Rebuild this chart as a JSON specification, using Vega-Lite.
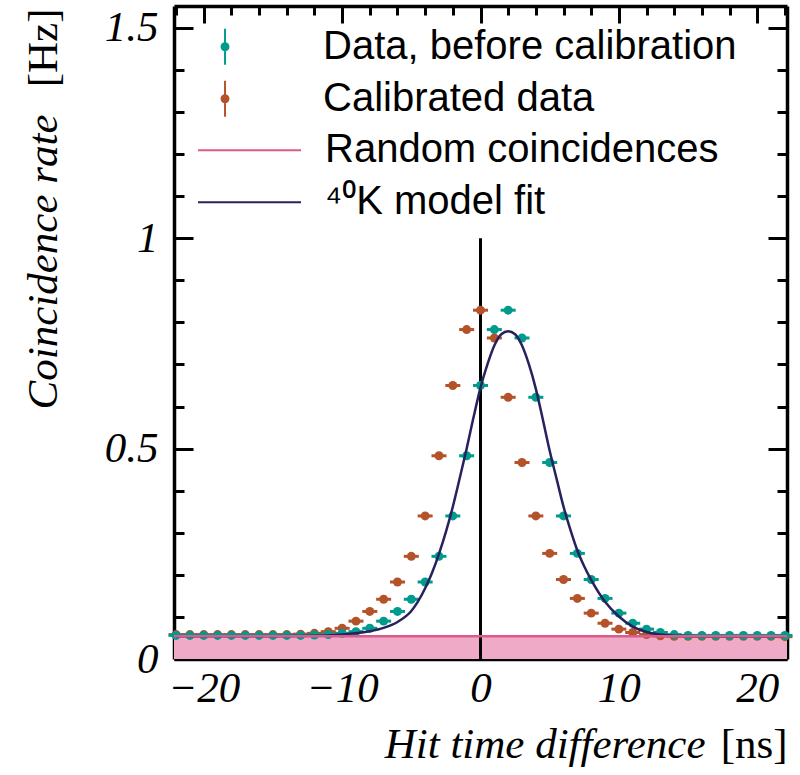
{
  "$schema": "https://vega.github.io/schema/vega-lite/v6.json",
  "width": 613,
  "height": 653,
  "autosize": {"type": "none"},
  "padding": {"left": 174, "top": 6, "right": 13, "bottom": 116},
  "background": "white",
  "config": {
    "view": {"stroke": null},
    "axis": {
      "grid": false,
      "domainColor": "black",
      "domainWidth": 3.5,
      "tickColor": "black",
      "tickWidth": 3,
      "labelFont": "Liberation Serif",
      "labelFontStyle": "italic",
      "labelFontSize": 43,
      "labelColor": "black",
      "titleFont": "Liberation Serif",
      "titleFontSize": 43,
      "titleFontWeight": "normal",
      "titleColor": "black",
      "zindex": 1
    },
    "axisX": {"ticks": true, "tickColor": "black", "tickWidth": 3},
    "axisY": {"ticks": true, "tickColor": "black", "tickWidth": 3},
    "legend": {
      "title": null,
      "orient": "none",
      "padding": 0,
      "rowPadding": 0,
      "clipHeight": 51.5,
      "symbolSize": 10609,
      "symbolOpacity": 1,
      "labelOffset": 23,
      "labelLimit": 700,
      "labelFont": "Liberation Sans, Noto Sans",
      "labelFontSize": 40,
      "labelColor": "black"
    }
  },
  "datasets": {
    "before": [
      {"t": -22, "rate": 0.056}, {"t": -21, "rate": 0.056}, {"t": -20, "rate": 0.056}, {"t": -19, "rate": 0.056},
      {"t": -18, "rate": 0.056}, {"t": -17, "rate": 0.056}, {"t": -16, "rate": 0.056}, {"t": -15, "rate": 0.056},
      {"t": -14, "rate": 0.056}, {"t": -13, "rate": 0.056}, {"t": -12, "rate": 0.057}, {"t": -11, "rate": 0.058},
      {"t": -10, "rate": 0.061}, {"t": -9, "rate": 0.065}, {"t": -8, "rate": 0.073}, {"t": -7, "rate": 0.090},
      {"t": -6, "rate": 0.113}, {"t": -5, "rate": 0.142}, {"t": -4, "rate": 0.183}, {"t": -3, "rate": 0.244},
      {"t": -2, "rate": 0.340}, {"t": -1, "rate": 0.483}, {"t": 0, "rate": 0.650}, {"t": 1, "rate": 0.783},
      {"t": 2, "rate": 0.829}, {"t": 3, "rate": 0.763}, {"t": 4, "rate": 0.622}, {"t": 5, "rate": 0.467},
      {"t": 6, "rate": 0.340}, {"t": 7, "rate": 0.251}, {"t": 8, "rate": 0.189}, {"t": 9, "rate": 0.144},
      {"t": 10, "rate": 0.109}, {"t": 11, "rate": 0.085}, {"t": 12, "rate": 0.071}, {"t": 13, "rate": 0.063},
      {"t": 14, "rate": 0.058}, {"t": 15, "rate": 0.056}, {"t": 16, "rate": 0.056}, {"t": 17, "rate": 0.056},
      {"t": 18, "rate": 0.056}, {"t": 19, "rate": 0.056}, {"t": 20, "rate": 0.056}, {"t": 21, "rate": 0.056},
      {"t": 22, "rate": 0.056}
    ],
    "calibrated": [
      {"t": -22, "rate": 0.058}, {"t": -21, "rate": 0.058}, {"t": -20, "rate": 0.058}, {"t": -19, "rate": 0.058},
      {"t": -18, "rate": 0.058}, {"t": -17, "rate": 0.058}, {"t": -16, "rate": 0.058}, {"t": -15, "rate": 0.058},
      {"t": -14, "rate": 0.058}, {"t": -13, "rate": 0.059}, {"t": -12, "rate": 0.061}, {"t": -11, "rate": 0.065},
      {"t": -10, "rate": 0.073}, {"t": -9, "rate": 0.090}, {"t": -8, "rate": 0.113}, {"t": -7, "rate": 0.142},
      {"t": -6, "rate": 0.183}, {"t": -5, "rate": 0.244}, {"t": -4, "rate": 0.340}, {"t": -3, "rate": 0.483},
      {"t": -2, "rate": 0.650}, {"t": -1, "rate": 0.783}, {"t": 0, "rate": 0.829}, {"t": 1, "rate": 0.763},
      {"t": 2, "rate": 0.622}, {"t": 3, "rate": 0.467}, {"t": 4, "rate": 0.340}, {"t": 5, "rate": 0.251},
      {"t": 6, "rate": 0.189}, {"t": 7, "rate": 0.144}, {"t": 8, "rate": 0.109}, {"t": 9, "rate": 0.085},
      {"t": 10, "rate": 0.071}, {"t": 11, "rate": 0.063}, {"t": 12, "rate": 0.058}, {"t": 13, "rate": 0.055},
      {"t": 14, "rate": 0.054}, {"t": 15, "rate": 0.054}, {"t": 16, "rate": 0.054}, {"t": 17, "rate": 0.054},
      {"t": 18, "rate": 0.054}, {"t": 19, "rate": 0.054}, {"t": 20, "rate": 0.054}, {"t": 21, "rate": 0.054},
      {"t": 22, "rate": 0.053}
    ],
    "model": [
      {"t": -22, "rate": 0.054}, {"t": -16, "rate": 0.054}, {"t": -13, "rate": 0.0545}, {"t": -12, "rate": 0.055},
      {"t": -11, "rate": 0.056}, {"t": -10, "rate": 0.058}, {"t": -9, "rate": 0.061}, {"t": -8, "rate": 0.066},
      {"t": -7, "rate": 0.074}, {"t": -6, "rate": 0.088}, {"t": -5, "rate": 0.114}, {"t": -4, "rate": 0.168},
      {"t": -3.5, "rate": 0.205}, {"t": -3, "rate": 0.250}, {"t": -2.5, "rate": 0.302}, {"t": -2, "rate": 0.362},
      {"t": -1.5, "rate": 0.430}, {"t": -1, "rate": 0.500}, {"t": -0.5, "rate": 0.575}, {"t": 0, "rate": 0.645},
      {"t": 0.5, "rate": 0.700}, {"t": 1, "rate": 0.745}, {"t": 1.5, "rate": 0.772}, {"t": 2, "rate": 0.779},
      {"t": 2.5, "rate": 0.772}, {"t": 3, "rate": 0.745}, {"t": 3.5, "rate": 0.700}, {"t": 4, "rate": 0.642},
      {"t": 4.5, "rate": 0.570}, {"t": 5, "rate": 0.495}, {"t": 5.5, "rate": 0.428}, {"t": 6, "rate": 0.362},
      {"t": 6.5, "rate": 0.307}, {"t": 7, "rate": 0.258}, {"t": 7.5, "rate": 0.220}, {"t": 8, "rate": 0.188},
      {"t": 9, "rate": 0.136}, {"t": 10, "rate": 0.101}, {"t": 11, "rate": 0.077}, {"t": 12, "rate": 0.064},
      {"t": 13, "rate": 0.058}, {"t": 14, "rate": 0.055}, {"t": 16, "rate": 0.054}, {"t": 22, "rate": 0.054}
    ],
    "random": [
      {"t": -23, "rate": 0.054}, {"t": 23, "rate": 0.054}
    ]
  },
  "layer": [
    {
      "data": {"name": "random"},
      "mark": {"type": "area", "color": "#eeaac6", "clip": true},
      "encoding": {
        "x": {"field": "t", "type": "quantitative",
          "scale": {"domain": [-22.15, 22.15], "nice": false, "zero": false},
          "axis": {"orient": "bottom", "values": [-20, -10, 0, 10, 20], "tickSize": -17, "labelPadding": 25,
            "domain": false, "title": "Hit time difference", "titleFontStyle": "italic",
            "titleX": 531, "titleY": 98, "titleAlign": "right", "titleBaseline": "alphabetic", "titleAngle": 0}},
        "y": {"field": "rate", "type": "quantitative",
          "scale": {"domain": [0, 1.552], "nice": false, "zero": false},
          "axis": {"orient": "left", "values": [0, 0.5, 1, 1.5], "format": "~g", "tickSize": -19, "labelPadding": 35,
            "domain": true, "title": "Coincidence rate", "titleFontStyle": "italic",
            "titleX": -118, "titleY": 108, "titleAlign": "right", "titleBaseline": "alphabetic", "titleAngle": -90}},
        "y2": {"datum": 0}
      }
    },
    {
      "data": {"values": [{"t": 0, "low": 0, "high": 1}]},
      "mark": {"type": "rule", "color": "black", "strokeWidth": 3},
      "encoding": {
        "x": {"field": "t", "type": "quantitative",
          "scale": {"domain": [-22.15, 22.15], "nice": false, "zero": false},
          "axis": {"orient": "bottom", "values": [-22, -18, -16, -14, -12, -8, -6, -4, -2, 2, 4, 6, 8, 12, 14, 16, 18, 22],
            "tickSize": -9, "labels": false, "domain": false, "title": null}},
        "y": {"field": "low", "type": "quantitative",
          "scale": {"domain": [0, 1.552], "nice": false, "zero": false},
          "axis": {"orient": "left", "values": [0.1, 0.2, 0.3, 0.4, 0.6, 0.7, 0.8, 0.9, 1.1, 1.2, 1.3, 1.4],
            "tickSize": -10, "labels": false, "domain": false, "title": null}},
        "y2": {"field": "high"}
      }
    },
    {
      "data": {"name": "calibrated"},
      "transform": [{"calculate": "'Calibrated data'", "as": "series"}],
      "mark": {"type": "tick", "orient": "horizontal", "size": 15, "thickness": 3, "opacity": 1},
      "encoding": {
        "x": {"field": "t", "type": "quantitative",
          "scale": {"domain": [-22.15, 22.15], "nice": false, "zero": false},
          "axis": {"orient": "top", "values": [-20, -10, 0, 10, 20], "tickSize": -17, "labels": false, "domain": false, "title": null}},
        "y": {"field": "rate", "type": "quantitative",
          "scale": {"domain": [0, 1.552], "nice": false, "zero": false},
          "axis": {"orient": "right", "values": [0, 0.5, 1, 1.5], "tickSize": -19, "labels": false, "domain": true, "title": null}},
        "color": {"field": "series", "type": "nominal",
          "scale": {"domain": ["Data, before calibration", "Calibrated data"], "range": ["#009b8c", "#b4532a"]},
          "legend": {"legendX": 23, "legendY": 15, "symbolStrokeWidth": 0,
            "symbolType": "M-0.543,0A0.087,0.087 0 1,0 -0.369,0A0.087,0.087 0 1,0 -0.543,0ZM-0.475,-0.35L-0.475,0.35L-0.437,0.35L-0.437,-0.35Z"}}
      }
    },
    {
      "data": {"name": "calibrated"},
      "transform": [{"calculate": "'Calibrated data'", "as": "series"}],
      "mark": {"type": "point", "filled": true, "size": 80, "opacity": 1},
      "encoding": {
        "x": {"field": "t", "type": "quantitative",
          "scale": {"domain": [-22.15, 22.15], "nice": false, "zero": false},
          "axis": {"orient": "top", "values": [-22, -18, -16, -14, -12, -8, -6, -4, -2, 2, 4, 6, 8, 12, 14, 16, 18, 22],
            "tickSize": -9, "labels": false, "domain": false, "title": null}},
        "y": {"field": "rate", "type": "quantitative",
          "scale": {"domain": [0, 1.552], "nice": false, "zero": false},
          "axis": {"orient": "right", "values": [0.1, 0.2, 0.3, 0.4, 0.6, 0.7, 0.8, 0.9, 1.1, 1.2, 1.3, 1.4],
            "tickSize": -10, "labels": false, "domain": false, "title": null}},
        "color": {"field": "series", "type": "nominal",
          "legend": {"legendX": 23, "legendY": 15, "symbolStrokeWidth": 0,
            "symbolType": "M-0.543,0A0.087,0.087 0 1,0 -0.369,0A0.087,0.087 0 1,0 -0.543,0ZM-0.475,-0.35L-0.475,0.35L-0.437,0.35L-0.437,-0.35Z"}}
      }
    },
    {
      "data": {"name": "before"},
      "transform": [{"calculate": "'Data, before calibration'", "as": "series"}],
      "mark": {"type": "tick", "orient": "horizontal", "size": 15, "thickness": 3, "opacity": 1},
      "encoding": {
        "x": {"field": "t", "type": "quantitative",
          "scale": {"domain": [-22.15, 22.15], "nice": false, "zero": false},
          "axis": {"orient": "bottom", "ticks": false, "labels": false, "domain": true,
            "title": "[ns]", "titleFontStyle": "normal",
            "titleX": 613, "titleY": 98, "titleAlign": "right", "titleBaseline": "alphabetic", "titleAngle": 0}},
        "y": {"field": "rate", "type": "quantitative",
          "scale": {"domain": [0, 1.552], "nice": false, "zero": false},
          "axis": {"orient": "left", "ticks": false, "labels": false, "domain": false,
            "title": "[Hz]", "titleFontStyle": "normal",
            "titleX": -118, "titleY": 2, "titleAlign": "right", "titleBaseline": "alphabetic", "titleAngle": -90}},
        "color": {"field": "series", "type": "nominal",
          "legend": {"legendX": 23, "legendY": 15, "symbolStrokeWidth": 0,
            "symbolType": "M-0.543,0A0.087,0.087 0 1,0 -0.369,0A0.087,0.087 0 1,0 -0.543,0ZM-0.475,-0.35L-0.475,0.35L-0.437,0.35L-0.437,-0.35Z"}}
      }
    },
    {
      "data": {"name": "before"},
      "transform": [{"calculate": "'Data, before calibration'", "as": "series"}],
      "mark": {"type": "point", "filled": true, "size": 80, "opacity": 1},
      "encoding": {
        "x": {"field": "t", "type": "quantitative",
          "scale": {"domain": [-22.15, 22.15], "nice": false, "zero": false},
          "axis": {"orient": "top", "ticks": false, "labels": false, "domain": true, "title": null}},
        "y": {"field": "rate", "type": "quantitative",
          "scale": {"domain": [0, 1.552], "nice": false, "zero": false}, "axis": null},
        "color": {"field": "series", "type": "nominal",
          "legend": {"legendX": 23, "legendY": 15, "symbolStrokeWidth": 0,
            "symbolType": "M-0.543,0A0.087,0.087 0 1,0 -0.369,0A0.087,0.087 0 1,0 -0.543,0ZM-0.475,-0.35L-0.475,0.35L-0.437,0.35L-0.437,-0.35Z"}}
      }
    },
    {
      "data": {"name": "model"},
      "transform": [{"calculate": "'⁴⁰K model fit'", "as": "series"}],
      "mark": {"type": "line", "strokeWidth": 2.5, "interpolate": "monotone", "clip": true},
      "encoding": {
        "x": {"field": "t", "type": "quantitative",
          "scale": {"domain": [-22.15, 22.15], "nice": false, "zero": false}, "axis": null},
        "y": {"field": "rate", "type": "quantitative",
          "scale": {"domain": [0, 1.552], "nice": false, "zero": false}, "axis": null},
        "stroke": {"field": "series", "type": "nominal",
          "scale": {"domain": ["Random coincidences", "⁴⁰K model fit"], "range": ["#dc5a8c", "#27215e"]},
          "legend": {"legendX": 23, "legendY": 118.5, "symbolStrokeWidth": 2, "symbolType": "M-1,0L1,0"}}
      }
    },
    {
      "data": {"values": [{"rate": 0.054, "series": "Random coincidences"}]},
      "mark": {"type": "rule", "strokeWidth": 2.5},
      "encoding": {
        "y": {"field": "rate", "type": "quantitative",
          "scale": {"domain": [0, 1.552], "nice": false, "zero": false}, "axis": null},
        "stroke": {"field": "series", "type": "nominal",
          "legend": {"legendX": 23, "legendY": 118.5, "symbolStrokeWidth": 2, "symbolType": "M-1,0L1,0"}}
      }
    }
  ],
  "resolve": {"scale": {"x": "independent", "y": "independent"}}
}
